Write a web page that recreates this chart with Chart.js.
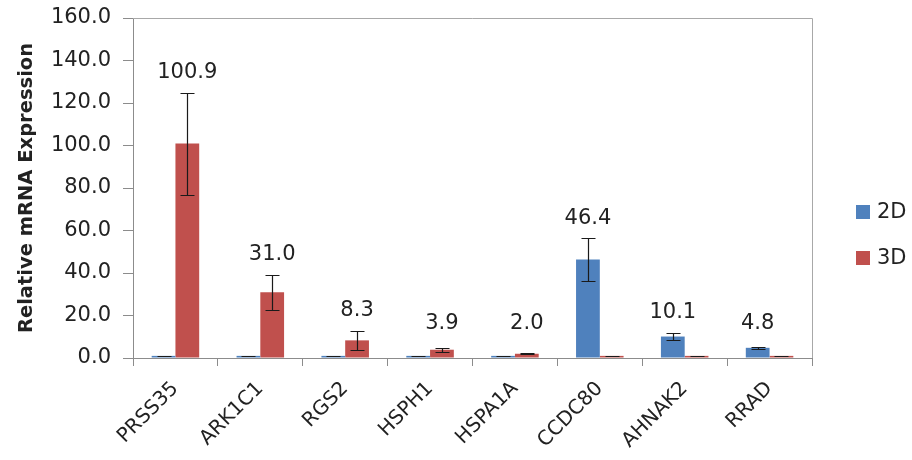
<!DOCTYPE html>
<html>
<head>
<meta charset="utf-8">
<script src="https://cdn.jsdelivr.net/npm/chart.js@4/dist/chart.umd.min.js"></script>
<style>
  html, body { margin: 0; padding: 0; background: #fff; }
  #wrap { width: 912px; height: 460px; }
</style>
</head>
<body>
<div id="wrap"><canvas id="c" width="912" height="460"></canvas></div>
<script>
const categories = ['PRSS35', 'ARK1C1', 'RGS2', 'HSPH1', 'HSPA1A', 'CCDC80', 'AHNAK2', 'RRAD'];
const seriesNames = ['2D', '3D'];
const values2D = [1.0, 1.0, 1.0, 1.0, 1.0, 46.4, 10.1, 4.8];
const values3D = [100.9, 31.0, 8.3, 3.9, 2.0, 1.0, 1.0, 1.0];
const errors2D = [0.1, 0.1, 0.1, 0.1, 0.1, 10.0, 1.7, 0.5];
const errors3D = [24.0, 8.2, 4.5, 0.9, 0.3, 0.1, 0.1, 0.1];
const yTicks = [0, 20, 40, 60, 80, 100, 120, 140, 160];

const FONT = 'DejaVu Sans';
const TEXT = '#222222';
const AXIS = '#8c8c8c';
const errorsByDataset = [errors2D, errors3D];

const plotBorder = {
  id: 'plotBorder',
  afterDraw(chart) {
    const {ctx, chartArea: a} = chart;
    ctx.save();
    ctx.strokeStyle = '#a8a8a8';
    ctx.lineWidth = 1;
    ctx.beginPath();
    ctx.moveTo(a.left, Math.round(a.top) + 0.5);
    ctx.lineTo(Math.round(a.right) + 0.5, Math.round(a.top) + 0.5);
    ctx.lineTo(Math.round(a.right) + 0.5, a.bottom);
    ctx.stroke();
    ctx.restore();
  }
};

const errorBars = {
  id: 'errorBars',
  afterDatasetsDraw(chart) {
    const {ctx} = chart;
    const y = chart.scales.y;
    ctx.save();
    ctx.strokeStyle = '#1a1a1a';
    ctx.lineWidth = 1.2;
    chart.data.datasets.forEach((ds, di) => {
      const meta = chart.getDatasetMeta(di);
      meta.data.forEach((bar, i) => {
        const v = ds.data[i], e = errorsByDataset[di][i];
        const yt = Math.round(y.getPixelForValue(v + e)) + 0.5;
        const yb = Math.round(y.getPixelForValue(v - e)) + 0.5;
        const x = Math.round(bar.x) + 0.5;
        const cap = 7;
        ctx.beginPath();
        ctx.moveTo(x, yt); ctx.lineTo(x, yb);
        ctx.moveTo(x - cap, yt); ctx.lineTo(x + cap, yt);
        ctx.moveTo(x - cap, yb); ctx.lineTo(x + cap, yb);
        ctx.stroke();
      });
    });
    ctx.restore();
  }
};

const valueLabels = {
  id: 'valueLabels',
  afterDatasetsDraw(chart) {
    const {ctx} = chart;
    const y = chart.scales.y;
    const zero = y.getPixelForValue(0);
    ctx.save();
    ctx.font = '21px "' + FONT + '"';
    ctx.fillStyle = TEXT;
    ctx.textAlign = 'center';
    ctx.textBaseline = 'middle';
    categories.forEach((c, i) => {
      let di = values2D[i] >= values3D[i] ? 0 : 1;
      const ds = chart.data.datasets[di];
      const v = ds.data[i], e = errorsByDataset[di][i];
      const bar = chart.getDatasetMeta(di).data[i];
      const top = y.getPixelForValue(v + e);
      const ly = Math.min(top - 20, zero - 34);
      ctx.fillText(v.toFixed(1), bar.x, ly);
    });
    ctx.restore();
  }
};

const sideLegend = {
  id: 'sideLegend',
  afterDraw(chart) {
    const {ctx, chartArea: a} = chart;
    const cy = (a.top + a.bottom) / 2 + 47;
    ctx.save();
    ctx.font = '21px "' + FONT + '"';
    ctx.textBaseline = 'middle';
    ctx.textAlign = 'left';
    chart.data.datasets.forEach((ds, di) => {
      const yy = cy - 23 + di * 46;
      const x0 = a.right + 44;
      ctx.fillStyle = ds.backgroundColor;
      ctx.fillRect(x0, yy - 7, 14, 14);
      ctx.fillStyle = TEXT;
      ctx.fillText(ds.label, x0 + 21, yy + 1);
    });
    ctx.restore();
  }
};

new Chart(document.getElementById('c'), {
  type: 'bar',
  data: {
    labels: categories,
    datasets: [
      { label: seriesNames[0], data: values2D, backgroundColor: '#4F81BD' },
      { label: seriesNames[1], data: values3D, backgroundColor: '#C0504D' }
    ]
  },
  options: {
    responsive: false,
    animation: false,
    devicePixelRatio: 1,
    layout: { padding: { left: 0, right: 100, top: 18, bottom: 0 } },
    datasets: { bar: { categoryPercentage: 0.56, barPercentage: 1.0 } },
    plugins: { legend: { display: false }, tooltip: { enabled: false } },
    scales: {
      x: {
        grid: { display: true, drawOnChartArea: false, drawTicks: true, tickLength: 8, color: AXIS, offset: true },
        border: { display: true, color: AXIS, width: 1 },
        ticks: { font: { family: FONT, size: 20 }, color: TEXT, maxRotation: 45, minRotation: 45, padding: 11 },
        afterFit(s) { s.height = 102; s.paddingLeft = 0; s.paddingRight = 0; }
      },
      y: {
        min: 0, max: 160,
        afterBuildTicks(s) { s.ticks = yTicks.map(v => ({ value: v })); },
        grid: { display: true, drawOnChartArea: false, drawTicks: true, tickLength: 10, color: AXIS },
        border: { display: true, color: AXIS, width: 1 },
        ticks: { font: { family: FONT, size: 21 }, color: TEXT, padding: 12, callback: v => Number(v).toFixed(1) },
        title: { display: true, text: 'Relative mRNA Expression', font: { family: FONT, size: 19.5, weight: 'bold' }, color: TEXT, padding: { top: 15, bottom: 0 } },
        afterFit(s) { s.width = 133; s.paddingTop = 0; s.paddingBottom = 0; }
      }
    }
  },
  plugins: [plotBorder, errorBars, valueLabels, sideLegend]
});
</script>
</body>
</html>
